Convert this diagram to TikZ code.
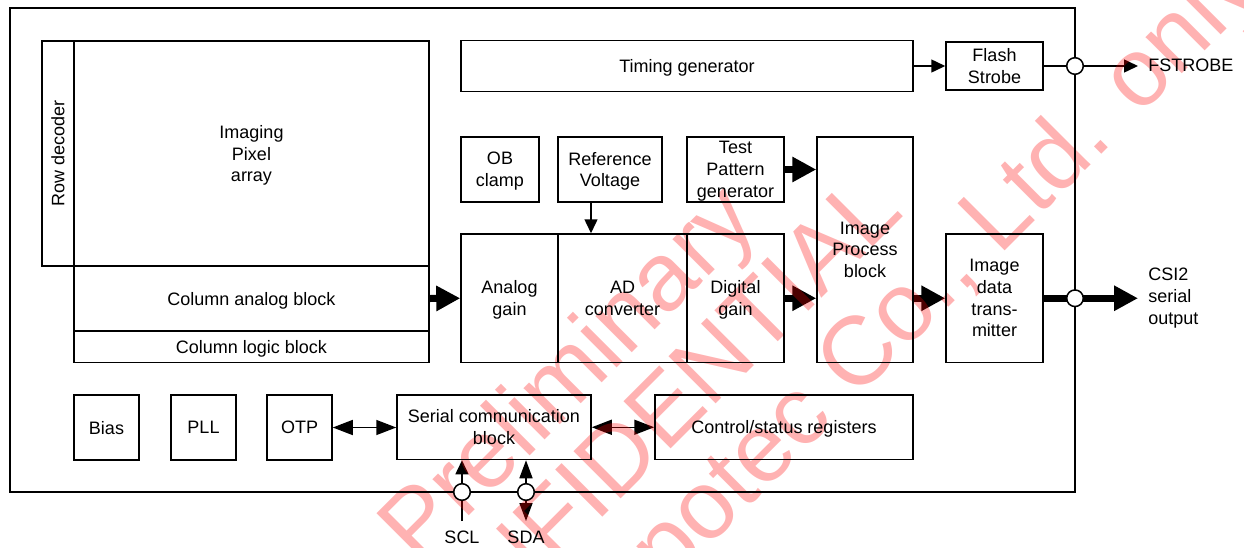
\documentclass[tikz,border=0pt]{standalone}
\usepackage{fontspec}
\setmainfont{Liberation Sans}
\usetikzlibrary{arrows.meta}
\pgfdeclarelayer{wires}
\pgfdeclarelayer{mark}
\pgfsetlayers{wires,mark,main}
\newcommand\lbl{\fontsize{9}{10.85}\selectfont}
\tikzset{
  blk/.style={draw, line width=0.75pt, inner sep=0pt, align=center, font=\lbl, text depth=0pt},
  txt/.style={inner sep=0pt, align=left, font=\lbl},
  pin/.style={circle, draw, fill=white, line width=0.75pt, minimum size=8.3pt, inner sep=0pt},
  sig/.style={line width=0.75pt, -{Triangle[length=7pt,width=6.5pt]}},
  dbl/.style={line width=0.75pt, {Triangle[length=10pt,width=7.5pt]}-{Triangle[length=10pt,width=7.5pt]}},
  bus/.style={line width=3.5pt, -{Triangle[length=12pt,width=12pt]}},
  wm/.style={inner sep=0pt, anchor=base west, rotate=45, text=red, text opacity=0.3,
             font=\fontsize{48.5}{50}\selectfont}
}
\begin{document}
\begin{tikzpicture}[x=0.5pt, y=-0.5pt]
\useasboundingbox (0,0) rectangle (1244,547);
\begin{pgfonlayer}{wires}
  \fill[white] (0,0) rectangle (1244,547);
\end{pgfonlayer}

% chip outline
\draw[line width=0.75pt] (10,8) rectangle (1075,492);

% sensor array and column blocks
\node[blk, minimum width=16pt,    minimum height=112.5pt] (rowdec) at (58,153.5) {\rotatebox{90}{Row decoder}};
\node[blk, minimum width=177.5pt, minimum height=112.5pt] (pixel)  at (251.5,153.5) {Imaging\\Pixel\\array};
\node[blk, minimum width=177.5pt, minimum height=32.5pt]  (colana) at (251.5,298.5) {Column analog block};
\node[blk, minimum width=177.5pt, minimum height=15.75pt] (collog) at (251.5,346.75) {Column logic block};

% timing and strobe
\node[blk, minimum width=226pt,  minimum height=25.5pt] (timing) at (687,66) {Timing generator};
\node[blk, minimum width=48.5pt, minimum height=24pt]   (flash)  at (994.5,66) {Flash\\Strobe};

% analog front end
\node[blk, minimum width=39pt,   minimum height=32.5pt] (ob)   at (500,169.5) {OB\\clamp};
\node[blk, minimum width=52pt,   minimum height=32.5pt] (refv) at (610,169.5) {Reference\\Voltage};
\node[blk, minimum width=48.5pt, minimum height=32.5pt] (tpg)  at (735.5,169.5) {Test\\Pattern\\generator};
\node[blk, minimum width=48.5pt, minimum height=64.25pt] (ana) at (509.5,298.25) {Analog\\gain};
\node[blk, minimum width=64.5pt, minimum height=64.25pt] (adc) at (622.5,298.25) {AD\\converter};
\node[blk, minimum width=48.5pt, minimum height=64.25pt] (dig) at (735.5,298.25) {Digital\\gain};
\node[blk, minimum width=48pt,   minimum height=112.75pt] (ipb) at (865,249.75) {Image\\Process\\block};
\node[blk, minimum width=48.5pt, minimum height=64.25pt] (idt) at (994.5,298.25) {Image\\data\\trans-\\mitter};

% support blocks
\node[blk, minimum width=32.5pt, minimum height=32.5pt] (bias) at (106.5,427.5) {Bias};
\node[blk, minimum width=32.5pt, minimum height=32.5pt] (pll)  at (203.5,427.5) {PLL};
\node[blk, minimum width=32.5pt, minimum height=32.5pt] (otp)  at (299.5,427.5) {OTP};
\node[blk, minimum width=97pt,   minimum height=32.25pt] (scb) at (494,427.25) {Serial communication\\block};
\node[blk, minimum width=129pt,  minimum height=32.25pt] (csr) at (784,427.25) {Control/status registers};

% pads on the chip edge
\node[pin] (pfs)  at (1075,66) {};
\node[pin] (pcsi) at (1075,298.25) {};
\node[pin] (pscl) at (462,492) {};
\node[pin] (psda) at (526,492) {};

% external signals
\coordinate (fsend)  at (1138,66);
\coordinate (csiend) at (1138,298.25);
\coordinate (sclend) at (462,521);
\coordinate (sdaend) at (526,521);
\node[txt, anchor=west] (fslbl)  at (1148,65) {FSTROBE};
\node[txt, anchor=west] (csilbl) at (1148,298.25) {CSI2\\serial\\output};
\node[txt] (scllbl) at (462,537) {SCL};
\node[txt] (sdalbl) at (526,537) {SDA};

\begin{pgfonlayer}{wires}
  \draw[sig] (timing.east |- flash.west) -- (flash.west);
  \draw[sig] (flash.east) -- (fsend);
  \draw[sig] ([xshift=-9.5pt]refv.south) -- ([xshift=-9.5pt]refv.south |- adc.north);
  \draw[bus] (colana.east) -- (ana.west);
  \draw[bus] (tpg.east) -- (tpg.east -| ipb.west);
  \draw[bus] (dig.east) -- (dig.east -| ipb.west);
  \draw[bus] (idt.west -| ipb.east) -- (idt.west);
  \draw[bus, -] (idt.east) -- (pcsi.center);
  \draw[bus] (pcsi.center) -- (csiend);
  \draw[dbl] (otp.east) -- (otp.east -| scb.west);
  \draw[dbl] (scb.east |- csr.west) -- (csr.west);
  \draw[sig] (sclend) -- (sclend |- scb.south);
  \draw[dbl, {Triangle[length=9pt,width=6.5pt]}-{Triangle[length=9pt,width=6.5pt]}] (sdaend) -- (sdaend |- scb.south);
\end{pgfonlayer}

% confidentiality stamp
\begin{pgfonlayer}{mark}
  \node[wm] (wm1) at (418,567) {Preliminary};
  \node[wm] (wm2) at (402,718) {CONFIDENTIAL};
  \node[wm] (wm3) at (668,588) {potec Co., Ltd. only};
\end{pgfonlayer}
\end{tikzpicture}
\end{document}
